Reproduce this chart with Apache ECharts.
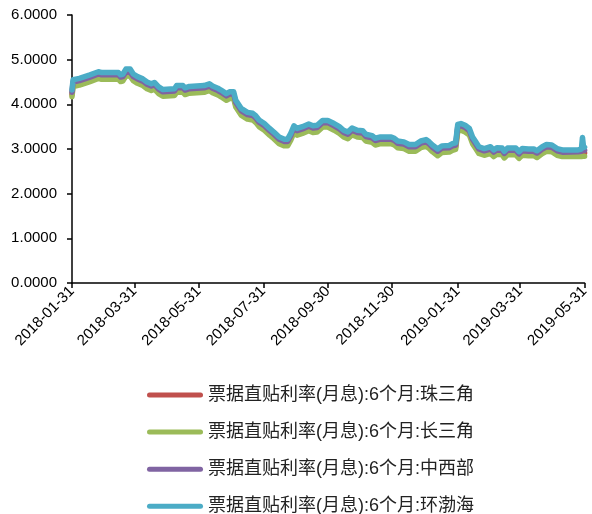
<!DOCTYPE html>
<html>
<head>
<meta charset="utf-8">
<script src="https://cdn.jsdelivr.net/npm/echarts@6/dist/echarts.min.js"></script>
<style>
  html, body { margin: 0; padding: 0; background: #fff; }
  #chart { width: 592px; height: 514px; }
</style>
</head>
<body>
<div id="chart"></div>
<script>
// Observation dates shared by all four regional series
const dates = [
  '2018-01-31','2018-02-01','2018-02-07','2018-02-12','2018-02-17','2018-02-25','2018-02-28','2018-03-16','2018-03-18','2018-03-20',
  '2018-03-23','2018-03-27','2018-03-30','2018-04-03','2018-04-08','2018-04-12','2018-04-16','2018-04-19','2018-04-23','2018-04-27',
  '2018-05-08','2018-05-10','2018-05-16','2018-05-18','2018-05-22','2018-06-05','2018-06-10','2018-06-13','2018-06-18','2018-06-21',
  '2018-06-26','2018-06-29','2018-07-03','2018-07-05','2018-07-10','2018-07-16','2018-07-21','2018-07-24','2018-07-27','2018-08-01',
  '2018-08-06','2018-08-10','2018-08-15','2018-08-20','2018-08-23','2018-08-26','2018-08-29','2018-09-01','2018-09-06','2018-09-12',
  '2018-09-16','2018-09-20','2018-09-25','2018-09-30','2018-10-06','2018-10-11','2018-10-15','2018-10-19','2018-10-23','2018-10-28',
  '2018-11-02','2018-11-05','2018-11-11','2018-11-14','2018-11-19','2018-11-29','2018-12-02','2018-12-05','2018-12-11','2018-12-16',
  '2018-12-22','2018-12-27','2019-01-01','2019-01-04','2019-01-07','2019-01-12','2019-01-16','2019-01-23','2019-01-26','2019-01-29',
  '2019-01-31','2019-02-03','2019-02-07','2019-02-11','2019-02-14','2019-02-17','2019-02-20','2019-02-25','2019-03-03','2019-03-06',
  '2019-03-09','2019-03-14','2019-03-16','2019-03-19','2019-03-27','2019-03-30','2019-04-02','2019-04-08','2019-04-13','2019-04-16',
  '2019-04-21','2019-04-25','2019-04-30','2019-05-05','2019-05-10','2019-05-25','2019-05-28','2019-05-29','2019-05-30','2019-05-31'
];

// 珠三角
const pearlDelta = [
  4.22,4.45,4.48,4.52,4.56,4.63,4.61,4.61,4.56,4.57,
  4.69,4.68,4.58,4.52,4.47,4.40,4.36,4.39,4.29,4.23,
  4.25,4.32,4.32,4.27,4.30,4.32,4.36,4.31,4.26,4.22,
  4.14,4.18,4.18,3.99,3.81,3.72,3.70,3.64,3.55,3.47,
  3.36,3.28,3.17,3.12,3.12,3.25,3.42,3.36,3.40,3.46,
  3.42,3.43,3.54,3.54,3.47,3.40,3.32,3.28,3.37,3.32,
  3.31,3.23,3.20,3.14,3.17,3.17,3.14,3.08,3.06,3.00,
  3.00,3.08,3.11,3.06,2.99,2.90,2.97,2.98,3.02,3.04,
  3.45,3.47,3.43,3.36,3.17,3.06,2.95,2.91,2.95,2.88,
  2.93,2.92,2.85,2.92,2.92,2.84,2.91,2.90,2.90,2.86,
  2.95,3.00,2.99,2.91,2.88,2.87,2.88,2.90,2.91,2.91
];

// 长三角
const yangtzeDelta = [
  4.17,4.40,4.43,4.47,4.51,4.58,4.56,4.56,4.51,4.52,
  4.64,4.63,4.53,4.47,4.42,4.35,4.31,4.34,4.24,4.18,
  4.20,4.27,4.27,4.22,4.25,4.27,4.31,4.26,4.21,4.17,
  4.09,4.13,4.13,3.94,3.76,3.67,3.65,3.59,3.50,3.42,
  3.31,3.23,3.12,3.07,3.07,3.20,3.37,3.31,3.35,3.41,
  3.37,3.38,3.49,3.49,3.42,3.35,3.27,3.23,3.32,3.27,
  3.26,3.18,3.15,3.09,3.12,3.12,3.09,3.03,3.01,2.95,
  2.95,3.03,3.06,3.01,2.94,2.85,2.92,2.93,2.97,2.99,
  3.40,3.42,3.38,3.31,3.12,3.01,2.90,2.86,2.90,2.83,
  2.88,2.87,2.80,2.87,2.87,2.79,2.86,2.85,2.85,2.81,
  2.90,2.95,2.94,2.86,2.83,2.83,2.83,2.84,2.84,2.84
];

// 中西部
const midWest = [
  4.27,4.50,4.53,4.57,4.61,4.68,4.66,4.66,4.61,4.62,
  4.72,4.72,4.62,4.57,4.52,4.45,4.41,4.44,4.34,4.28,
  4.30,4.37,4.37,4.32,4.35,4.37,4.41,4.36,4.31,4.27,
  4.19,4.23,4.23,4.04,3.86,3.77,3.75,3.69,3.60,3.52,
  3.41,3.33,3.22,3.17,3.17,3.30,3.47,3.41,3.45,3.51,
  3.47,3.48,3.59,3.59,3.52,3.45,3.37,3.33,3.42,3.37,
  3.36,3.28,3.25,3.19,3.22,3.22,3.19,3.13,3.11,3.05,
  3.05,3.13,3.16,3.11,3.04,2.95,3.02,3.03,3.07,3.09,
  3.50,3.52,3.48,3.41,3.22,3.11,3.00,2.96,3.00,2.93,
  2.98,2.97,2.90,2.97,2.97,2.89,2.96,2.95,2.95,2.91,
  3.00,3.05,3.04,2.96,2.93,2.94,2.95,2.97,2.98,2.97
];

// 环渤海
const bohaiRim = [
  4.32,4.55,4.58,4.62,4.66,4.73,4.71,4.71,4.66,4.67,
  4.79,4.79,4.68,4.62,4.57,4.50,4.46,4.49,4.39,4.33,
  4.35,4.42,4.42,4.37,4.40,4.42,4.46,4.41,4.36,4.32,
  4.24,4.28,4.28,4.09,3.91,3.82,3.80,3.74,3.65,3.57,
  3.46,3.38,3.27,3.22,3.22,3.35,3.52,3.46,3.50,3.56,
  3.52,3.53,3.64,3.64,3.57,3.50,3.42,3.38,3.47,3.42,
  3.41,3.33,3.30,3.24,3.27,3.27,3.24,3.18,3.16,3.10,
  3.10,3.18,3.21,3.16,3.09,3.00,3.07,3.08,3.12,3.14,
  3.55,3.57,3.53,3.46,3.27,3.16,3.05,3.01,3.05,2.98,
  3.03,3.02,2.95,3.02,3.02,2.94,3.01,3.00,3.00,2.96,
  3.05,3.10,3.09,3.01,2.98,2.98,3.00,3.26,3.05,3.04
];

const seriesNames = [
  '票据直贴利率(月息):6个月:珠三角',
  '票据直贴利率(月息):6个月:长三角',
  '票据直贴利率(月息):6个月:中西部',
  '票据直贴利率(月息):6个月:环渤海'
];
const seriesValues = [pearlDelta, yangtzeDelta, midWest, bohaiRim];
const seriesColors = ['#C0504D', '#9BBB59', '#8064A2', '#4BACC6'];

const xTickLabels = [
  '2018-01-31','2018-03-31','2018-05-31','2018-07-31','2018-09-30',
  '2018-11-30','2019-01-31','2019-03-31','2019-05-31'
];
const yTicks = [0, 1, 2, 3, 4, 5, 6];

// Dates are placed on a continuous day scale counted from the first label
const DAY = 86400000;
const origin = Date.parse(xTickLabels[0] + 'T00:00:00Z');
const dayOf = s => Math.round((Date.parse(s + 'T00:00:00Z') - origin) / DAY);
const tickDays = xTickLabels.map(dayOf);
const labelByDay = {};
tickDays.forEach((d, i) => { labelByDay[d] = xTickLabels[i]; });

const font = '"Liberation Sans", Arial, sans-serif';
const cjkFont = '"Liberation Sans", "Noto Sans CJK SC", sans-serif';

const chart = echarts.init(document.getElementById('chart'), null, { renderer: 'canvas' });

chart.setOption({
  animation: false,
  backgroundColor: '#ffffff',
  grid: { left: 72, right: 6, top: 15, bottom: 231, containLabel: false },
  xAxis: {
    type: 'value',
    min: tickDays[0],
    max: tickDays[tickDays.length - 1],
    splitLine: { show: false },
    axisLine: { show: true, onZero: false, lineStyle: { color: '#000', width: 1.5 } },
    axisTick: { show: true, customValues: tickDays, length: 5, inside: false, lineStyle: { color: '#000', width: 1.5 } },
    axisLabel: {
      customValues: tickDays,
      rotate: 45,
      margin: 6,
      color: '#000',
      fontFamily: font,
      fontSize: 15,
      formatter: v => labelByDay[v] || ''
    }
  },
  yAxis: {
    type: 'value',
    min: yTicks[0],
    max: yTicks[yTicks.length - 1],
    interval: 1,
    splitLine: { show: false },
    axisLine: { show: true, lineStyle: { color: '#000', width: 1.5 } },
    axisTick: { show: true, length: 5, lineStyle: { color: '#000', width: 1.5 } },
    axisLabel: {
      margin: 15,
      color: '#000',
      fontFamily: font,
      fontSize: 15,
      formatter: v => v.toFixed(4)
    }
  },
  legend: {
    orient: 'vertical',
    left: 147,
    top: 386,
    height: 200,
    padding: 0,
    itemWidth: 56,
    itemHeight: 5,
    itemGap: 19.1,
    icon: 'path://M2.5,0 L53.5,0 A2.5,2.5 0 0 1 53.5,5 L2.5,5 A2.5,2.5 0 0 1 2.5,0 Z',
    textStyle: { color: '#222', fontFamily: cjkFont, fontSize: 18, lineHeight: 16 },
    data: seriesNames
  },
  series: seriesNames.map((name, i) => ({
    name: name,
    type: 'line',
    showSymbol: false,
    symbol: 'none',
    color: seriesColors[i],
    lineStyle: { width: 5.5, color: seriesColors[i], join: 'round', cap: 'round' },
    data: dates.map((d, j) => [dayOf(d), seriesValues[i][j]]),
    z: 2 + i
  }))
});
</script>
</body>
</html>
